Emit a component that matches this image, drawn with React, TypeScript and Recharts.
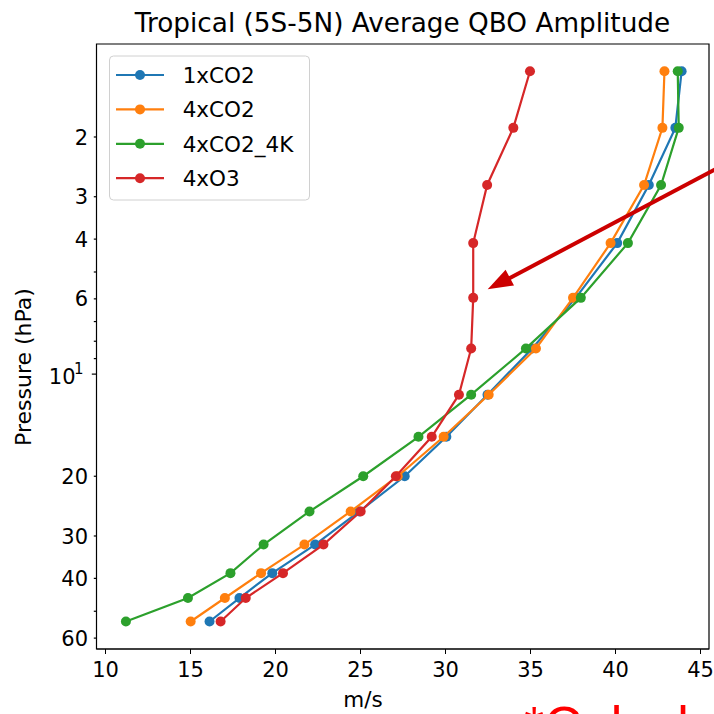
import React from 'react';
import { ScatterChart, Scatter, XAxis, YAxis, ReferenceArea } from 'recharts';

// pressure levels (hPa), shared by all runs
const pressure = [1.28, 1.88, 2.77, 4.11, 5.96, 8.4, 11.5, 15.3, 20.0, 25.4, 31.8, 38.6, 45.7, 53.6];

// QBO amplitude (m/s) per level
const ctl1xCO2 = [43.89, 43.52, 41.96, 40.1, 37.66, 35.1, 32.47, 30.05, 27.6, 24.93, 22.33, 19.81, 17.88, 16.12];
const run4xCO2 = [42.88, 42.76, 41.68, 39.71, 37.5, 35.32, 32.54, 29.89, 27.19, 24.42, 21.7, 19.15, 17.02, 15.01];
const run4xCO2_4K = [43.66, 43.72, 42.68, 40.73, 37.96, 34.73, 31.51, 28.41, 25.16, 22.0, 19.3, 17.35, 14.85, 11.2];
const run4xO3 = [34.97, 33.99, 32.45, 31.63, 31.63, 31.51, 30.79, 29.19, 27.08, 25.01, 22.82, 20.44, 18.25, 16.77];

const seriesNames = ['1xCO2', '4xCO2', '4xCO2_4K', '4xO3'];
const seriesValues = [ctl1xCO2, run4xCO2, run4xCO2_4K, run4xO3];
const colors = ['#1f77b4', '#ff7f0e', '#2ca02c', '#d62728'];

const xTicks = [10, 15, 20, 25, 30, 35, 40, 45];
const yTicks = [2, 3, 4, 5, 6, 7, 8, 9, 10, 20, 30, 40, 50, 60];
const yLabelled = [2, 3, 4, 6, 10, 20, 30, 40, 60];

const X_DOMAIN = [9.47, 45.5];
const Y_DOMAIN = [1.064, 64.6];
const FONT = 'DejaVu Sans';

const YTick = (props: any) => {
  const { x, y, payload } = props;
  const v = payload.value;
  const len = v === 10 ? 4.7 : 2.7;
  return (
    <g>
      <line x1={x - len} y1={y} x2={x} y2={y} stroke="#000" strokeWidth={1.2} />
      {v === 10 ? (
        <g>
          <text x={x - 21} y={y + 9.4} textAnchor="end" fontSize={21} fontFamily={FONT} fill="#000">10</text>
          <text x={x - 13} y={y - 0.5} textAnchor="end" fontSize={15} fontFamily={FONT} fill="#000">1</text>
        </g>
      ) : yLabelled.includes(v) ? (
        <text x={x - 8.5} y={y + 7.6} textAnchor="end" fontSize={21} fontFamily={FONT} fill="#000">{v}</text>
      ) : null}
    </g>
  );
};

export default function App() {
  const series = seriesValues.map((vals) => vals.map((x, i) => ({ x, p: pressure[i] })));

  return (
    <div style={{ position: 'absolute', left: 0, top: 0, width: 714, height: 714, overflow: 'hidden', background: '#fff' }}>
      <ScatterChart width={714} height={714} margin={{ top: 44, right: 5, bottom: 0, left: 0 }}>
        <XAxis
          type="number"
          dataKey="x"
          domain={X_DOMAIN}
          ticks={xTicks}
          interval={0}
          allowDataOverflow
          height={65}
          stroke="#000"
          tickSize={5}
          tickMargin={8}
          tick={{ fontSize: 21, fontFamily: FONT, fill: '#000' }}
          label={{
            content: () => (
              <text x={363} y={707} textAnchor="middle" fontSize={21.5} fontFamily={FONT} fill="#000">m/s</text>
            ),
          }}
        />
        <YAxis
          type="number"
          dataKey="p"
          scale="log"
          domain={Y_DOMAIN}
          reversed
          allowDataOverflow
          ticks={yTicks}
          interval={0}
          width={96.5}
          stroke="#000"
          tickLine={false}
          tickSize={0}
          tickMargin={0}
          tick={<YTick />}
          label={{
            content: () => (
              <text
                x={0}
                y={0}
                transform="translate(31,367) rotate(-90)"
                textAnchor="middle"
                fontSize={22}
                fontFamily={FONT}
                fill="#000"
              >
                Pressure (hPa)
              </text>
            ),
          }}
        />
        <ReferenceArea
          x1={X_DOMAIN[0]}
          x2={X_DOMAIN[1]}
          y1={Y_DOMAIN[0]}
          y2={Y_DOMAIN[1]}
          fill="none"
          stroke="#000"
          strokeWidth={1.2}
          fillOpacity={0}
          ifOverflow="visible"
        />
        {series.map((data, k) => (
          <Scatter
            key={seriesNames[k]}
            name={seriesNames[k]}
            data={data}
            fill={colors[k]}
            line={{ stroke: colors[k], strokeWidth: 2.2 }}
            lineType="joint"
            isAnimationActive={false}
            shape={(p: any) => <circle cx={p.cx} cy={p.cy} r={5} fill={colors[k]} />}
          />
        ))}
      </ScatterChart>

      <svg width={714} height={714} style={{ position: 'absolute', left: 0, top: 0, pointerEvents: 'none' }}>
        <text x={402.5} y={32} textAnchor="middle" fontSize={26.3} fontFamily={FONT} fill="#000">
          Tropical (5S-5N) Average QBO Amplitude
        </text>

        {/* legend */}
        <rect x={109.5} y={56} width={200} height={144} rx={4} fill="#fff" fillOpacity={0.8} stroke="#d0d0d0" strokeWidth={1} />
        {seriesNames.map((name, k) => {
          const cy = 75 + k * 34.4;
          return (
            <g key={name}>
              <line x1={116} y1={cy} x2={164} y2={cy} stroke={colors[k]} strokeWidth={2.2} />
              <circle cx={140} cy={cy} r={5} fill={colors[k]} />
              <text x={182.7} y={cy + 7.7} fontSize={21.5} fontFamily={FONT} fill="#000">{name}</text>
            </g>
          );
        })}

        {/* annotation arrow */}
        <line x1={716} y1={169} x2={506} y2={280} stroke="#cc0000" strokeWidth={4} />
        <polygon points="487.7,289.3 505.6,269.7 514,285.5" fill="#cc0000" />

        {/* slide note, cut off by the bottom edge as in the source */}
        <text x={524} y={743} fontSize={52} fontFamily="Liberation Sans" fill="#ff0000">*Calculated by</text>
      </svg>
    </div>
  );
}
